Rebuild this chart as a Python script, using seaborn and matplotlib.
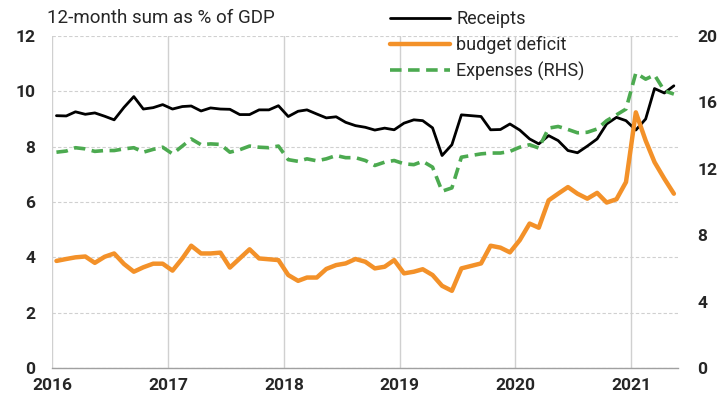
import matplotlib
matplotlib.use("Agg")
import matplotlib.pyplot as plt
import matplotlib.dates as mdates
import seaborn as sns
import pandas as pd
import numpy as np

# ---- data (monthly, Jan 2016 - May 2021) ----
receipts = [
    9.12, 9.11, 9.26, 9.17, 9.22, 9.10, 8.97, 9.42, 9.81, 9.36, 9.41, 9.52,
    9.36, 9.45, 9.47, 9.29, 9.40, 9.36, 9.35, 9.16, 9.16, 9.33, 9.33, 9.48,
    9.09, 9.28, 9.33, 9.18, 9.04, 9.08, 8.88, 8.76, 8.70, 8.60, 8.67, 8.61,
    8.85, 8.97, 8.94, 8.68, 7.68, 8.07, 9.15, 9.12, 9.09, 8.61, 8.62, 8.82,
    8.60, 8.28, 8.10, 8.40, 8.22, 7.86, 7.78, 8.02, 8.28, 8.82, 9.06, 8.94,
    8.60, 9.00, 10.10, 9.94, 10.20,
]
budget_deficit = [
    3.87, 3.94, 4.00, 4.03, 3.80, 4.02, 4.14, 3.76, 3.48, 3.64, 3.77, 3.77,
    3.52, 3.96, 4.42, 4.14, 4.14, 4.17, 3.63, 3.96, 4.29, 3.96, 3.93, 3.90,
    3.36, 3.15, 3.27, 3.27, 3.58, 3.72, 3.78, 3.94, 3.84, 3.60, 3.66, 3.90,
    3.42, 3.48, 3.57, 3.36, 2.97, 2.79, 3.60, 3.69, 3.78, 4.42, 4.35, 4.18,
    4.62, 5.22, 5.07, 6.06, 6.30, 6.54, 6.30, 6.12, 6.33, 5.98, 6.10, 6.72,
    9.24, 8.22, 7.44, 6.84, 6.30,
]
expenses_rhs = [
    13.00, 13.07, 13.27, 13.20, 13.05, 13.10, 13.10, 13.20, 13.27, 13.00, 13.17, 13.30,
    12.90, 13.37, 13.80, 13.45, 13.50, 13.47, 13.00, 13.15, 13.37, 13.30, 13.27, 13.37,
    12.55, 12.45, 12.60, 12.48, 12.60, 12.80, 12.67, 12.67, 12.50, 12.20, 12.40, 12.50,
    12.30, 12.25, 12.45, 12.10, 10.65, 10.85, 12.70, 12.80, 12.90, 12.95, 12.95, 13.05,
    13.30, 13.45, 13.25, 14.45, 14.55, 14.37, 14.17, 14.20, 14.40, 14.90, 15.25, 15.60,
    17.77, 17.40, 17.65, 16.70, 16.50,
]
dates = pd.date_range("2016-01-01", periods=len(receipts), freq="MS") + pd.Timedelta(days=14)

title = "12-month sum as % of GDP"
left_ticks = [0, 2, 4, 6, 8, 10, 12]
right_ticks = [0, 4, 8, 12, 16, 20]

df = pd.DataFrame({"date": dates, "Receipts": receipts,
                   "budget deficit": budget_deficit, "Expenses (RHS)": expenses_rhs})

sns.set_style("white")
plt.rcParams["font.family"] = ["Roboto", "DejaVu Sans"]

fig = plt.figure(figsize=(7.24, 4.0), dpi=100)
ax = fig.add_axes([52 / 724, 1 - 368 / 400, (678 - 52) / 724, (368 - 36) / 400])
ax2 = ax.twinx()

sns.lineplot(data=df, x="date", y="Receipts", ax=ax, color="black", lw=2.0, label="Receipts", legend=False)
sns.lineplot(data=df, x="date", y="budget deficit", ax=ax, color="#F39129", lw=3.2, label="budget deficit", legend=False)
sns.lineplot(data=df, x="date", y="Expenses (RHS)", ax=ax2, color="#4CAA50", lw=2.6,
             label="Expenses (RHS)", legend=False)
ax2.lines[0].set_dashes([3.2, 1.8])

ax.set_ylim(0, 12)
ax2.set_ylim(0, 20)
ax.set_yticks(left_ticks)
ax2.set_yticks(right_ticks)
ax.set_xlim(pd.Timestamp("2016-01-01"), pd.Timestamp("2021-05-28"))
ax.xaxis.set_major_locator(mdates.YearLocator())
ax.xaxis.set_major_formatter(mdates.DateFormatter("%Y"))

ax.set_xlabel("")
ax.set_ylabel("")
ax2.set_ylabel("")

ax.grid(axis="y", color="#D0D0D0", linestyle=(0, (3, 2)), lw=0.8)
ax.grid(axis="x", color="#D0D0D0", linestyle="-", lw=1.0)
ax2.grid(False)

for a in (ax, ax2):
    for s in ("top", "right", "left"):
        a.spines[s].set_visible(False)
ax2.spines["bottom"].set_visible(False)
ax.spines["bottom"].set_color("#A0A0A0")
ax.spines["bottom"].set_linewidth(1.0)

ax.tick_params(axis="x", which="major", length=4, color="#A0A0A0", width=1, pad=3,
               labelsize=12.5)
ax.tick_params(axis="y", length=0, pad=12, labelsize=12.5)
ax2.tick_params(axis="y", length=0, pad=14, labelsize=12.5)
for lab in ax.get_xticklabels() + ax.get_yticklabels() + ax2.get_yticklabels():
    lab.set_fontweight("bold")

fig.text(47 / 724, 1 - 18 / 400, title, ha="left", va="center", fontsize=13.5)

handles = ax.lines[:2] + ax2.lines[:1]
labels = ["Receipts", "budget deficit", "Expenses (RHS)"]
fig.legend(handles, labels, loc="upper left", bbox_to_anchor=(383 / 724, 1 - 3 / 400),
           frameon=False, fontsize=13, handlelength=3.3, handletextpad=0.35,
           labelspacing=0.42, borderaxespad=0)

fig.savefig("out.png", dpi=100)
